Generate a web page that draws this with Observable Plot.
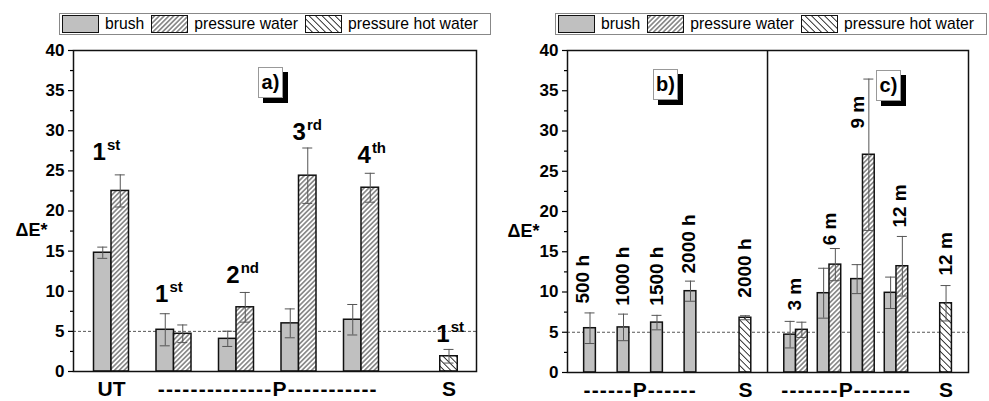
<!DOCTYPE html>
<html>
<head>
<meta charset="utf-8">
<script src="https://cdn.jsdelivr.net/npm/d3@7"></script>
<script src="https://cdn.jsdelivr.net/npm/@observablehq/plot@0.6"></script>
<style>
  body { margin: 0; background: #fff; }
  #wrap { position: relative; width: 989px; height: 401px; overflow: hidden; font-family: "Liberation Sans", Arial, sans-serif; background: #fff; }
  .legend { position: absolute; top: 13px; height: 22px; width: 432px; border: 1px solid #888; box-sizing: border-box; display: flex; align-items: center; font-size: 15.7px; white-space: nowrap; color: #000; background: #fff; }
  .sw { width: 37px; height: 18px; border: 1.5px solid #111; box-sizing: border-box; margin: 0 6px 0 2px; flex: none; }
  .lt { margin-right: 5px; }
  .tag { position: absolute; width: 25px; height: 31px; background: #fff; border: 1px solid #999; box-shadow: 5px 5px 0 #000; box-sizing: border-box; display: flex; align-items: center; justify-content: center; font: bold 20px "Liberation Sans", Arial, sans-serif; z-index: 5; }
  .panel { position: absolute; top: 40px; }
</style>
</head>
<body>
<svg width="0" height="0" style="position:absolute">
  <defs>
    <pattern id="hatchPW" patternUnits="userSpaceOnUse" width="3.4" height="3.4" patternTransform="rotate(45)">
      <rect width="3.4" height="3.4" fill="#fff"/>
      <line x1="1.7" y1="0" x2="1.7" y2="3.4" stroke="#222" stroke-width="0.9"/>
    </pattern>
    <pattern id="hatchPHW" patternUnits="userSpaceOnUse" width="4.6" height="4.6" patternTransform="rotate(-45)">
      <rect width="4.6" height="4.6" fill="#fff"/>
      <line x1="2.3" y1="0" x2="2.3" y2="4.6" stroke="#222" stroke-width="0.9"/>
    </pattern>
  </defs>
</svg>
<div id="wrap">
  <div class="legend" style="left:59px">
    <div class="sw" style="background:#c0c0c0"></div><span class="lt">brush</span>
    <svg class="sw" width="37" height="18"><rect width="37" height="18" fill="url(#hatchPW)"/></svg><span class="lt">pressure water</span>
    <svg class="sw" width="37" height="18"><rect width="37" height="18" fill="url(#hatchPHW)"/></svg><span class="lt">pressure hot water</span>
  </div>
  <div class="legend" style="left:555px">
    <div class="sw" style="background:#c0c0c0"></div><span class="lt">brush</span>
    <svg class="sw" width="37" height="18"><rect width="37" height="18" fill="url(#hatchPW)"/></svg><span class="lt">pressure water</span>
    <svg class="sw" width="37" height="18"><rect width="37" height="18" fill="url(#hatchPHW)"/></svg><span class="lt">pressure hot water</span>
  </div>
  <div id="left" class="panel" style="left:0px"></div>
  <div id="right" class="panel" style="left:489px"></div>
  <div class="tag" style="left:258px;top:67px">a)</div>
  <div class="tag" style="left:653px;top:69px">b)</div>
  <div class="tag" style="left:876px;top:70px">c)</div>
</div>
<script>
// ---------- Panel a ----------
const groupsA = ["UT", "P 1st", "P 2nd", "P 3rd", "P 4th", "S 1st"];
const posA = [1, 2, 3, 4, 5, 6.4];
const brushA = [14.8, 5.2, 4.07, 6.0, 6.45, null];
const brushErrA = [0.7, 2.0, 0.95, 1.8, 1.9, null];
const pressureWaterA = [22.5, 4.7, 8.0, 24.4, 22.9, null];
const pressureWaterErrA = [2.0, 1.1, 1.85, 3.45, 1.8, null];
const hotWaterA = [null, null, null, null, null, 1.9];
const hotWaterErrA = [null, null, null, null, null, 0.85];
const ordNumA = ["1", "1", "2", "3", "4", "1"];
const ordSufA = ["st", "st", "nd", "rd", "th", "st"];
const ordXA = [0.91, 1.91, 3.05, 4.11, 5.15, 6.41];
const ordYA = [26.3, 8.6, 11.0, 28.9, 26.0, 3.7];
const xLabelsA = ["UT", "--------------P-----------", "S"];
const xLabelPosA = [1, 3.5, 6.4];
const domainA = [0.392, 6.84];

// ---------- Panels b and c ----------
const groupsBC = ["500 h", "1000 h", "1500 h", "2000 h", "S 2000 h", "3 m", "6 m", "9 m", "12 m", "S 12 m"];
const posBC = [1, 2, 3, 4, 5.64, 7.15, 8.15, 9.15, 10.15, 11.63];
const brushBC = [5.5, 5.6, 6.2, 10.1, null, 4.7, 9.85, 11.6, 9.9, null];
const brushErrBC = [1.9, 1.65, 0.9, 1.25, null, 1.65, 3.1, 1.8, 1.95, null];
const pressureWaterBC = [null, null, null, null, null, 5.3, 13.4, 27.05, 13.2, null];
const pressureWaterErrBC = [null, null, null, null, null, 0.95, 2.0, 9.4, 3.7, null];
const hotWaterBC = [null, null, null, null, 6.8, null, null, null, null, 8.6];
const hotWaterErrBC = [null, null, null, null, 0.25, null, null, null, null, 2.2];
const timeLabelsBC = ["500 h", "1000 h", "1500 h", "2000 h", "2000 h", "3 m", "6 m", "9 m", "12 m", "12 m"];
const timeLabelXBC = [0.78, 1.99, 3.0, 3.96, 5.62, 7.13, 8.15, 9.0, 10.25, 11.63];
const timeLabelYBC = [8.57, 8.3, 8.3, 12.3, 9.3, 7.7, 15.8, 30.3, 18.0, 12.05];
const dividerBC = [6.3];
const xLabelsBC = ["------P------", "S", "-------P-------", "S"];
const xLabelPosBC = [2.5, 5.64, 8.65, 11.63];
const domainBC = [0.328, 12.3];

const seriesNames = ["brush", "pressure water", "pressure hot water"];
const seriesFills = ["#c0c0c0", "url(#hatchPW)", "url(#hatchPHW)"];
const yTicks = d3.range(0, 41, 5);
const yMinor = d3.range(2.5, 40, 5);
const yAxisTitle = "ΔE*";
const yAxisTitleY = 17.6;
const threshold = [5];

function barRows(pos, vals, errs, barW) {
  const rows = [];
  pos.forEach((p, i) => {
    const present = vals.map((v, s) => [s, v[i], errs[s][i]]).filter(d => d[1] != null);
    const n = present.length;
    present.forEach(([s, v, e], k) => {
      const x1 = p + (k - n / 2) * barW;
      rows.push({series: s, x1, x2: x1 + barW, cx: x1 + barW / 2, y: v, err: e});
    });
  });
  return rows;
}

function panel({rows, domain, width, marginLeft, marginRight, marginBottom, xLabels, xLabelPos, extra, titleDx}) {
  const frameW = width - marginLeft - marginRight;
  const cap = 5 * (domain[1] - domain[0]) / frameW;
  const errRows = rows.filter(r => r.err != null);
  const xl = xLabels.map((t, i) => ({t, x: xLabelPos[i]}));
  const svg = Plot.plot({
    width, height: 361, marginTop: 10, marginBottom, marginLeft, marginRight,
    style: {fontFamily: "'Liberation Sans', Arial, sans-serif", color: "#000", background: "transparent", overflow: "visible", fontSize: "17px"},
    x: {domain, axis: null},
    y: {domain: [0, 40], label: null},
    marks: [
      Plot.ruleY(threshold, {stroke: "#444", strokeWidth: 0.9, strokeDasharray: "3,2"}),
      ...seriesFills.map((f, si) => Plot.rect(rows.filter(r => r.series === si), {
        x1: "x1", x2: "x2", y1: () => 0, y2: "y", fill: f, stroke: "#111", strokeWidth: 1.5
      })),
      Plot.ruleX(errRows, {x: "cx", y1: d => d.y - d.err, y2: d => d.y + d.err, stroke: "#555", strokeWidth: 1}),
      Plot.ruleY(errRows, {y: d => d.y + d.err, x1: d => d.cx - cap, x2: d => d.cx + cap, stroke: "#555", strokeWidth: 1}),
      Plot.ruleY(errRows, {y: d => d.y - d.err, x1: d => d.cx - cap, x2: d => d.cx + cap, stroke: "#555", strokeWidth: 1}),
      ...extra,
      Plot.frame({stroke: "#111", strokeWidth: 1.5}),
      Plot.axisY(yTicks, {tickSize: 5, tickPadding: 4, fontSize: 17, fontWeight: "bold", label: null, strokeWidth: 1.2}),
      Plot.axisY(yMinor, {tickSize: 3, tickFormat: () => "", label: null, strokeWidth: 1.2}),
      Plot.text([{t: yAxisTitle, y: yAxisTitleY}], {y: "y", text: "t", frameAnchor: "left", dx: titleDx, fontSize: 18, fontWeight: "bold", textAnchor: "middle"}),
      Plot.text(xl, {x: "x", text: "t", frameAnchor: "bottom", lineAnchor: "bottom", dy: 24, fontSize: 21, fontWeight: "bold"})
    ]
  });
  d3.select(svg).selectAll("text").filter(function() { return /-P-/.test(this.textContent); }).attr("letter-spacing", "1.2px");
  return svg;
}

// Panel a
const rowsA = barRows(posA, [brushA, pressureWaterA, hotWaterA], [brushErrA, pressureWaterErrA, hotWaterErrA], 0.28);
const ordA = ordNumA.map((n, i) => ({n, s: ordSufA[i], x: ordXA[i], y: ordYA[i]}));
document.getElementById("left").appendChild(panel({
  rows: rowsA, domain: domainA, width: 489, marginLeft: 73, marginRight: 13, marginBottom: 30,
  xLabels: xLabelsA, xLabelPos: xLabelPosA, titleDx: -42,
  extra: [
    Plot.text(ordA, {x: "x", y: "y", text: "n", textAnchor: "end", lineAnchor: "bottom", fontSize: 24, fontWeight: "bold"}),
    Plot.text(ordA, {x: "x", y: "y", text: "s", textAnchor: "start", lineAnchor: "bottom", dx: 1, dy: -10, fontSize: 15, fontWeight: "bold"})
  ]
}));

// Panels b and c
const rowsBC = barRows(posBC, [brushBC, pressureWaterBC, hotWaterBC], [brushErrBC, pressureWaterErrBC, hotWaterErrBC], 0.35);
const tl = timeLabelsBC.map((t, i) => ({t, x: timeLabelXBC[i], y: timeLabelYBC[i]}));
document.getElementById("right").appendChild(panel({
  rows: rowsBC, domain: domainBC, width: 500, marginLeft: 78, marginRight: 21, marginBottom: 29,
  xLabels: xLabelsBC, xLabelPos: xLabelPosBC, titleDx: -44,
  extra: [
    Plot.ruleX(dividerBC, {stroke: "#111", strokeWidth: 1.5}),
    Plot.text(tl, {x: "x", y: "y", text: "t", rotate: -90, textAnchor: "start", lineAnchor: "middle", fontSize: 19, fontWeight: "bold"})
  ]
}));
</script>
</body>
</html>
